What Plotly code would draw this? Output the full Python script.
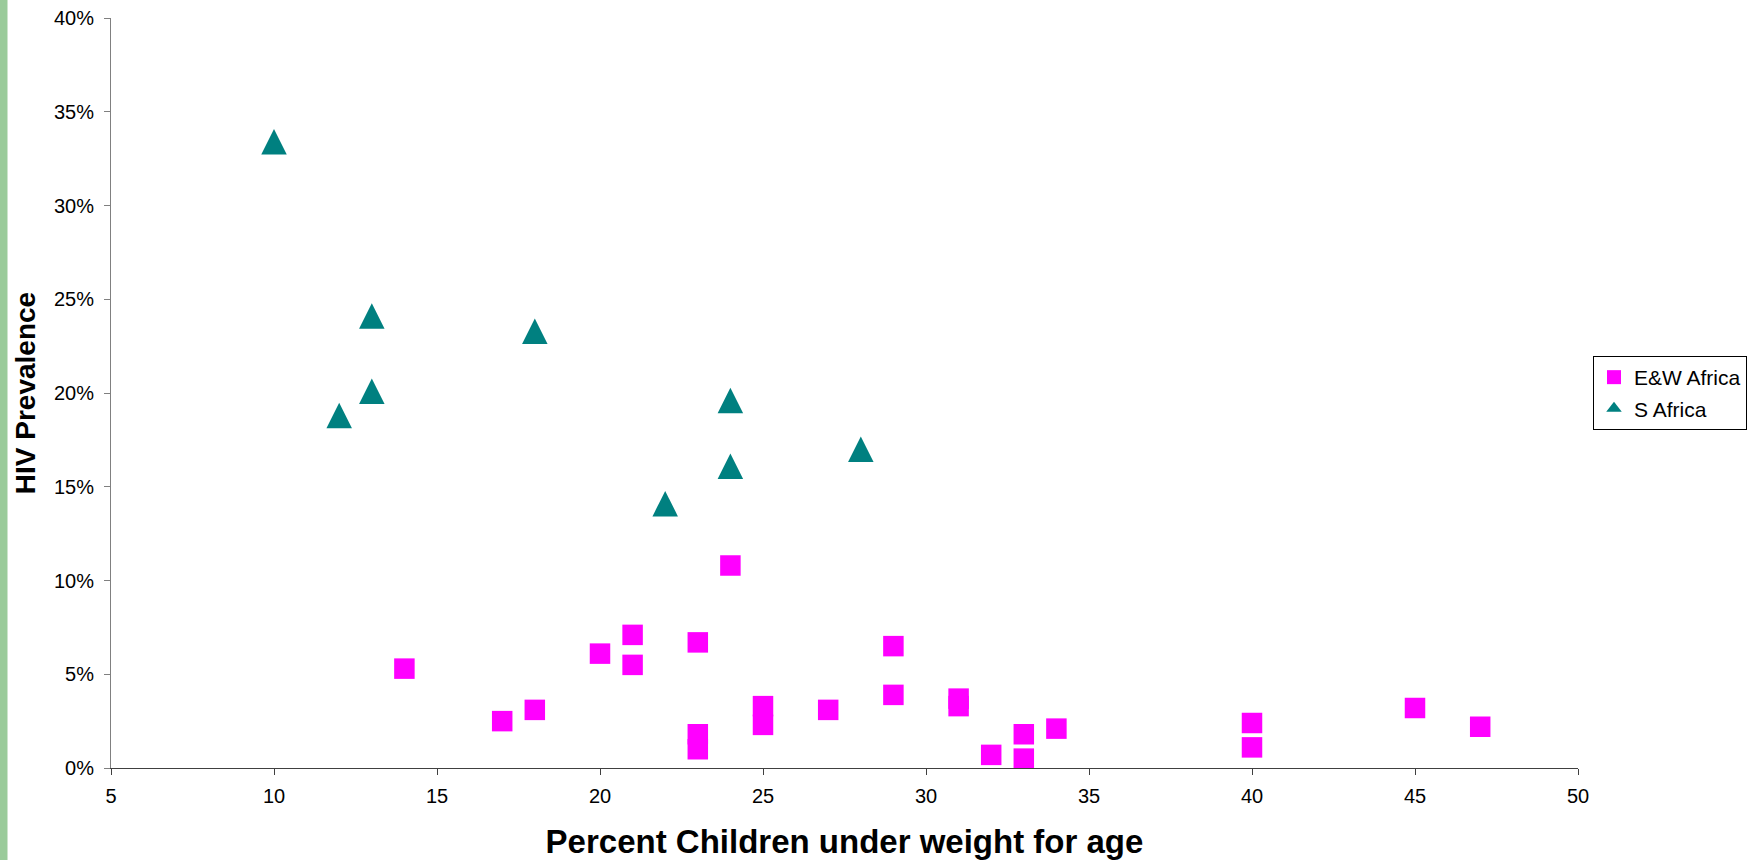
import plotly.graph_objects as go

# ---- data ----
ew_x = [14, 17, 18, 20, 21, 21, 23, 23, 23, 24, 25, 25, 27, 29, 29, 31, 31, 32, 33, 33, 34, 40, 40, 45, 47]
ew_y = [5.3, 2.5, 3.1, 6.1, 7.1, 5.5, 6.7, 1.8, 1.0, 10.8, 3.3, 2.3, 3.1, 6.5, 3.9, 3.7, 3.3, 0.7, 1.8, 0.5, 2.1, 2.4, 1.1, 3.2, 2.2]

s_x = [10, 12, 13, 13, 18, 22, 24, 24, 28]
s_y = [33.4, 18.8, 24.1, 20.1, 23.3, 14.1, 19.6, 16.1, 17.0]

series_names = ["E&W Africa", "S Africa"]
x_ticks = [5, 10, 15, 20, 25, 30, 35, 40, 45, 50]
y_ticks = [0, 0.05, 0.10, 0.15, 0.20, 0.25, 0.30, 0.35, 0.40]

x_title = "Percent Children under weight for age"
y_title = "HIV Prevalence"

# ---- styles ----
FONT = "Liberation Sans, Arial, sans-serif"
MAG = "#FF00FF"
TEAL = "#008080"
SQ = 20.5
TRI = 25.5
W, H = 1749, 860
ML, MR, MT, MB = 111, 171, 18, 92

fig = go.Figure()

fig.add_trace(go.Scatter(
    x=ew_x, y=[v / 100 for v in ew_y], mode="markers", name=series_names[0],
    marker=dict(symbol="square", size=SQ, color=MAG, line=dict(width=0)),
    showlegend=False, cliponaxis=False, hoverinfo="x+y"))

fig.add_trace(go.Scatter(
    x=s_x, y=[v / 100 for v in s_y], mode="markers", name=series_names[1],
    marker=dict(symbol="arrow-down", angle=180, standoff=TRI / 2, size=TRI,
                color=TEAL, line=dict(width=0)),
    showlegend=False, cliponaxis=False, hoverinfo="x+y"))

# legend entries
fig.add_trace(go.Scatter(
    x=[None], y=[None], mode="markers", name=series_names[0], legendgroup="a",
    marker=dict(symbol="square", size=14, color=MAG, line=dict(width=0))))
fig.add_trace(go.Scatter(
    x=[None], y=[None], mode="markers", name=series_names[1], legendgroup="b",
    marker=dict(symbol="triangle-up", size=13.5, color=TEAL, line=dict(width=0))))

plot_w = W - ML - MR

fig.update_layout(
    template="none",
    width=W, height=H, autosize=False,
    margin=dict(l=ML, r=MR, t=MT, b=MB, pad=0, autoexpand=False),
    paper_bgcolor="white", plot_bgcolor="white",
    font=dict(family=FONT, color="black", size=20),
    xaxis=dict(
        range=[5, 50], tickmode="array", tickvals=x_ticks, automargin=False,
        showline=True, linecolor="#404040", linewidth=1,
        ticks="outside", ticklen=6, tickcolor="#404040", tickwidth=1,
        showgrid=False, zeroline=False,
        tickfont=dict(family=FONT, size=20, color="black"),
        ticklabelstandoff=4,
        title=dict(text=x_title, standoff=28,
                   font=dict(family=FONT, size=33, color="black", weight="bold")),
    ),
    yaxis=dict(
        range=[0, 0.4], tickmode="array", tickvals=y_ticks, tickformat=".0%",
        automargin=False,
        showline=True, linecolor="#808080", linewidth=1,
        ticks="outside", ticklen=6, tickcolor="#808080", tickwidth=1,
        showgrid=False, zeroline=False,
        tickfont=dict(family=FONT, size=20, color="black"),
        ticklabelstandoff=6,
        title=dict(text=y_title, standoff=10,
                   font=dict(family=FONT, size=28, color="black", weight="bold")),
    ),
    legend=dict(
        x=(1593 - ML) / plot_w, xanchor="left", y=0.5, yanchor="middle",
        bgcolor="white", bordercolor="black", borderwidth=1,
        font=dict(family=FONT, size=21, color="black"),
        traceorder="grouped", tracegroupgap=1, itemsizing="trace",
    ),
    shapes=[dict(
        type="rect", xref="paper", yref="paper",
        x0=-ML / plot_w, x1=(7.5 - ML) / plot_w, y0=-1, y1=2,
        fillcolor="#9ACB9A", line=dict(width=0), layer="below")],
)

fig.write_html("out.html")
